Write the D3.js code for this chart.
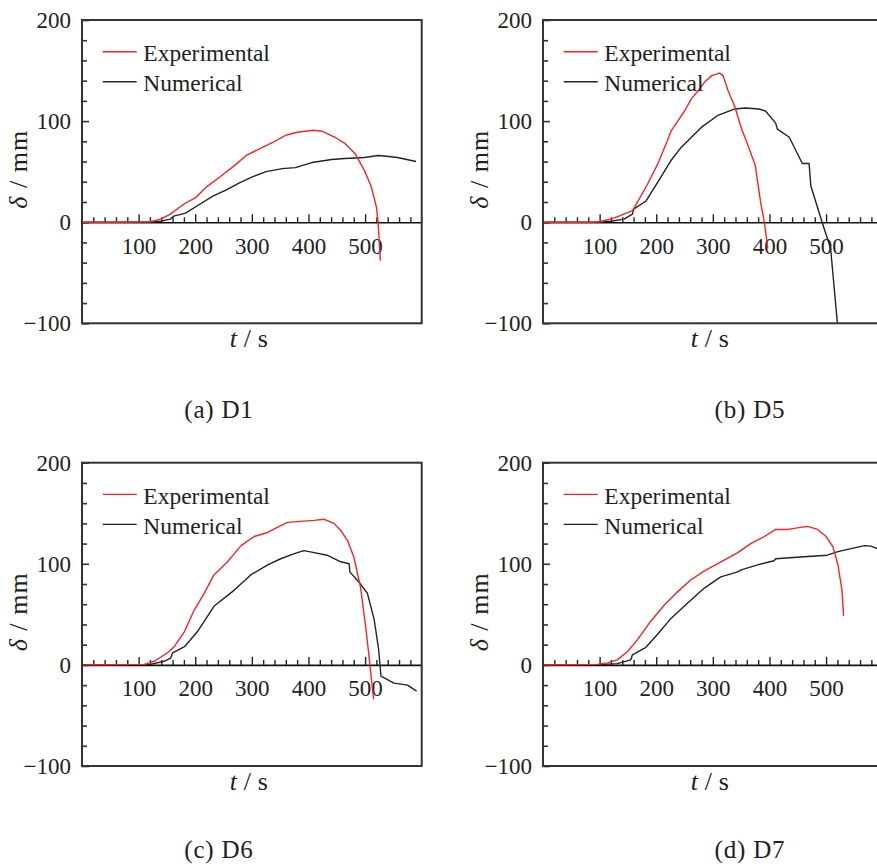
<!DOCTYPE html>
<html>
<head>
<meta charset="utf-8">
<script src="https://cdn.jsdelivr.net/npm/d3@7"></script>
<style>
  html, body { margin: 0; padding: 0; background: #fff; }
  svg { display: block; }
  text { font-family: "Liberation Serif", "Times New Roman", serif; fill: #222; }
</style>
</head>
<body>
<svg id="chart" width="877" height="866"></svg>
<script>
// ---------- data ----------
const captions = ["(a) D1", "(b) D5", "(c) D6", "(d) D7"];
const seriesNames = ["Experimental", "Numerical"];
const seriesColors = ["#ff2020", "#222222"];
const xTicks = [100, 200, 300, 400, 500];
const yTicks = [-100, 0, 100, 200];

// [t (s), δ (mm)]
const d1Experimental = [[0,0],[60,0],[120,0.5],[139,3],[156,8],[180,18],[200,24],[220,35],[244,45],[267,55],[290,66],[308,71],[337,79],[360,86],[380,89],[409,91],[424,90],[447,84],[464,78],[482,68],[499,51],[511,35],[520,15],[523,0],[527,-38]];
const d1Numerical = [[0,0],[121,0],[140,1],[156,3],[162,6],[183,9],[203,16],[232,26],[255,32],[278,39],[302,45],[325,50],[354,53],[377,54],[406,59],[418,60],[441,62],[464,63],[499,64],[523,66],[534,65.5],[557,64],[590,60]];

const d5Experimental = [[0,0],[88,0],[102,0.7],[125,4],[143,8],[158,11.5],[167,20],[185,38],[203,58],[220,81],[226,90],[238,100],[250,110],[262,122],[274,130],[286,139],[298,145],[312,147.5],[318,145],[327,130],[339,114],[351,92],[360,79],[375,56],[384,21],[391,0],[397,-26]];
const d5Numerical = [[0,0],[100,0],[120,1],[143,3],[158,8],[160,13],[182,21],[203,40],[226,61],[244,74],[280,94],[310,106],[339,112],[357,113],[381,112],[393,110],[411,98],[414,92],[435,84],[458,58],[470,58],[473,36],[493,0],[508,-26],[520,-100]];

const d6Experimental = [[0,0],[110,0.5],[128,3.6],[151,12],[163,18],[181,33],[198,54],[216,71],[233,89],[257,102],[281,118],[304,127],[328,131],[345,136],[363,141],[386,142],[410,143],[428,144],[445,140],[457,133],[469,123],[480,107],[492,77],[501,38],[507,8.5],[515,-34]];
const d6Numerical = [[0,0],[121,0.5],[145,3.6],[157,7],[160,12],[181,18],[204,33],[233,58],[269,74],[298,89],[328,99],[351,105],[375,110],[392,113],[410,111],[433,108.5],[457,102],[472,100],[473,92],[489,82],[504,71],[516,45],[524,15],[528,-11],[551,-18],[575,-20],[591,-26]];

const d7Experimental = [[0,0],[96,0.5],[114,2],[131,5],[149,13],[167,25],[190,43],[214,59],[237,72],[261,84],[285,93],[308,100],[344,111],[367,120],[391,127],[411,134],[432,134],[455,136],[467,137],[485,134],[500,127],[512,117],[521,99],[528,74],[531,48.5]];
const d7Numerical = [[0,0],[108,0.5],[131,1.3],[155,5],[158,10],[181,17],[202,30],[226,46],[255,61],[285,76],[314,87],[344,92],[350,94],[379,99],[408,103],[411,105],[461,107],[502,108.5],[521,112],[544,115],[568,118],[579,117.5],[591,115],[600,111]];

const panelData = [
  [d1Experimental, d1Numerical],
  [d5Experimental, d5Numerical],
  [d6Experimental, d6Numerical],
  [d7Experimental, d7Numerical]
];

// ---------- layout ----------
const origins = [[82, 20], [543, 20], [82, 462.7], [543, 462.7]];
const captionPos = [[219, 418], [750, 418], [219, 858], [750, 858]];
const W = 339.7, H = 303.3;
const FS = 23;
const serif = '"Liberation Serif", "Times New Roman", serif';

const svg = d3.select("#chart");
svg.append("rect").attr("width", 877).attr("height", 866).attr("fill", "#fff");

const x = d3.scaleLinear().domain([0, 600]).range([0, W]);
const y = d3.scaleLinear().domain([-100, 200]).range([H, 0]);
const line = d3.line().x(d => x(d[0])).y(d => y(d[1]));

panelData.forEach((series, i) => {
  const [ox, oy] = origins[i];
  const g = svg.append("g").attr("transform", `translate(${ox},${oy})`);

  // left axis major
  const yAx = g.append("g").call(
    d3.axisLeft(y).tickValues(yTicks).tickSize(-7).tickSizeOuter(0).tickPadding(11)
      .tickFormat(d => d < 0 ? "\u2212" + Math.abs(d) : d)
  );
  yAx.select(".domain").remove();
  yAx.selectAll("line").attr("stroke", "#333").attr("stroke-width", 1.6);
  yAx.selectAll("text").attr("font-size", FS).attr("fill", "#222").style("font-family", serif);

  // left axis minor
  const yMinor = g.append("g").call(
    d3.axisLeft(y).tickValues(d3.range(-80, 200, 20).filter(v => v % 100 !== 0))
      .tickSize(-5).tickSizeOuter(0).tickFormat("")
  );
  yMinor.select(".domain").remove();
  yMinor.selectAll("line").attr("stroke", "#333").attr("stroke-width", 1.6);

  // x axis on zero line: minor ticks
  const xMinor = g.append("g").attr("transform", `translate(0,${y(0)})`).call(
    d3.axisBottom(x).tickValues(d3.range(20, 600, 20).filter(v => v % 100 !== 0))
      .tickSize(-5).tickSizeOuter(0).tickFormat("")
  );
  xMinor.select(".domain").remove();
  xMinor.selectAll("line").attr("stroke", "#222").attr("stroke-width", 1.4);

  // x axis major
  const xAx = g.append("g").attr("transform", `translate(0,${y(0)})`).call(
    d3.axisBottom(x).tickValues(xTicks).tickSize(-8).tickSizeOuter(0).tickPadding(15)
  );
  xAx.select(".domain").attr("stroke", "#111").attr("stroke-width", 1.6);
  xAx.selectAll("line").attr("stroke", "#222").attr("stroke-width", 1.4);
  xAx.selectAll("text").attr("font-size", FS).attr("fill", "#222").style("font-family", serif);

  // curves
  const clipId = "clip" + i;
  g.append("clipPath").attr("id", clipId).append("rect")
    .attr("x", 0).attr("y", 0).attr("width", W).attr("height", H);
  [1, 0].forEach(k => {
    g.append("path").datum(series[k])
      .attr("clip-path", `url(#${clipId})`)
      .attr("fill", "none").attr("stroke", seriesColors[k])
      .attr("stroke-width", 1.4).attr("stroke-linejoin", "round")
      .attr("d", line);
  });

  // frame
  g.append("rect").attr("x", 0).attr("y", 0).attr("width", W).attr("height", H)
    .attr("fill", "none").attr("stroke", "#333").attr("stroke-width", 2);

  // legend
  seriesNames.forEach((name, k) => {
    const ly = 31.7 + k * 30;
    g.append("line").attr("x1", 20.7).attr("x2", 54.7).attr("y1", ly).attr("y2", ly)
      .attr("stroke", seriesColors[k]).attr("stroke-width", 1.4);
    g.append("text").attr("x", 61.3).attr("y", ly + 9.2).attr("font-size", FS + 0.5).text(name);
  });

  // axis titles
  const xt = g.append("text").attr("x", W / 2 - 3).attr("y", H + 24)
    .attr("text-anchor", "middle").attr("font-size", 26)
    .attr("textLength", 38).attr("lengthAdjust", "spacing");
  xt.append("tspan").attr("font-style", "italic").text("t");
  xt.append("tspan").text(" / s");

  const yt = g.append("text").attr("transform", `translate(${-55},${H / 2 - 2}) rotate(-90)`)
    .attr("text-anchor", "middle").attr("font-size", 26)
    .attr("textLength", 78).attr("lengthAdjust", "spacing");
  yt.append("tspan").attr("font-style", "italic").text("\u03b4");
  yt.append("tspan").text(" / mm");

  // caption
  svg.append("text").attr("x", captionPos[i][0]).attr("y", captionPos[i][1])
    .attr("text-anchor", "middle").attr("font-size", 25)
    .attr("letter-spacing", 0.8).text(captions[i]);
});
</script>
</body>
</html>
